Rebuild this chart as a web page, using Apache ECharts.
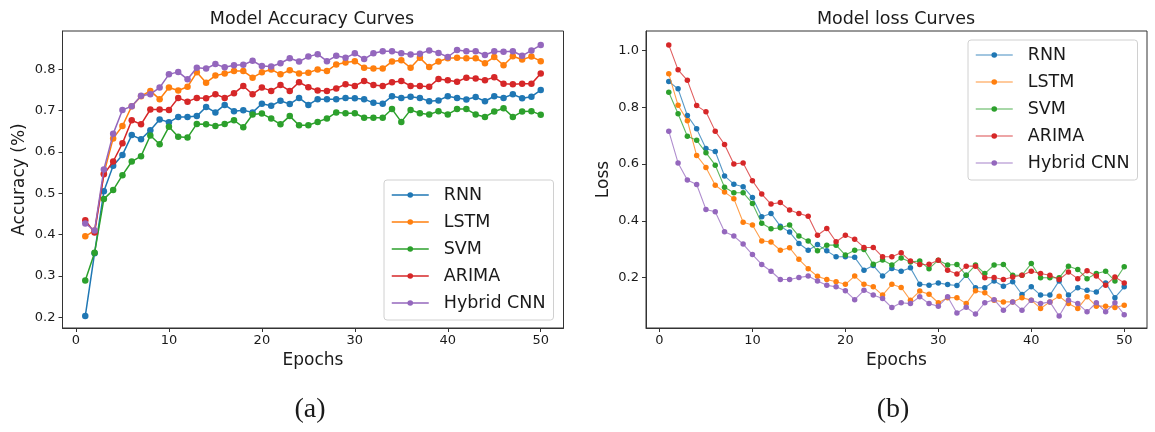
<!DOCTYPE html>
<html>
<head>
<meta charset="utf-8">
<script src="https://cdn.jsdelivr.net/npm/echarts@6/dist/echarts.min.js"></script>
<style>html,body{margin:0;padding:0;background:#fff;}#c{width:1155px;height:432px;}</style>
</head>
<body>
<div id="c"></div>
<script>
const epochs = Array.from({length: 50}, (_, i) => i + 1);
const seriesNames = ['RNN', 'LSTM', 'SVM', 'ARIMA', 'Hybrid CNN'];
const xTicks = [0, 10, 20, 30, 40, 50];
const accTicks = [0.2, 0.3, 0.4, 0.5, 0.6, 0.7, 0.8];
const lossTicks = [0.2, 0.4, 0.6, 0.8, 1.0];

const accRNN = [0.203,0.355,0.505,0.567,0.593,0.641,0.631,0.653,0.679,0.672,0.685,0.685,0.687,0.709,0.696,0.714,0.699,0.701,0.696,0.717,0.712,0.724,0.716,0.731,0.714,0.728,0.728,0.728,0.731,0.730,0.728,0.719,0.717,0.735,0.731,0.734,0.731,0.723,0.725,0.735,0.731,0.727,0.733,0.723,0.735,0.731,0.740,0.730,0.734,0.750];
const accLSTM = [0.396,0.410,0.548,0.633,0.663,0.711,0.735,0.748,0.728,0.756,0.749,0.758,0.793,0.768,0.785,0.790,0.796,0.796,0.780,0.793,0.800,0.788,0.798,0.790,0.792,0.800,0.796,0.812,0.817,0.820,0.804,0.802,0.802,0.819,0.822,0.804,0.828,0.806,0.819,0.827,0.828,0.827,0.827,0.815,0.830,0.810,0.832,0.824,0.831,0.820];
const accSVM = [0.289,0.356,0.486,0.508,0.544,0.577,0.590,0.640,0.619,0.661,0.637,0.635,0.668,0.667,0.663,0.668,0.677,0.660,0.691,0.693,0.681,0.667,0.687,0.665,0.665,0.673,0.681,0.696,0.694,0.694,0.683,0.683,0.683,0.704,0.673,0.702,0.694,0.691,0.699,0.691,0.704,0.704,0.691,0.685,0.698,0.706,0.685,0.698,0.699,0.690];
const accARIMA = [0.435,0.405,0.546,0.577,0.621,0.677,0.667,0.703,0.703,0.702,0.731,0.722,0.731,0.730,0.740,0.731,0.742,0.760,0.740,0.756,0.748,0.762,0.748,0.769,0.757,0.749,0.748,0.754,0.764,0.760,0.772,0.762,0.760,0.769,0.772,0.760,0.760,0.758,0.777,0.774,0.770,0.780,0.778,0.774,0.781,0.765,0.764,0.765,0.765,0.790];
const accHybrid = [0.427,0.410,0.558,0.644,0.702,0.711,0.736,0.740,0.756,0.788,0.794,0.776,0.804,0.802,0.813,0.805,0.810,0.811,0.821,0.808,0.807,0.815,0.827,0.819,0.831,0.837,0.820,0.833,0.828,0.839,0.825,0.839,0.844,0.844,0.839,0.836,0.838,0.846,0.840,0.830,0.847,0.844,0.844,0.835,0.844,0.843,0.844,0.833,0.846,0.859];

const lossRNN = [0.891,0.865,0.771,0.724,0.655,0.644,0.558,0.529,0.520,0.482,0.414,0.426,0.381,0.360,0.320,0.296,0.316,0.294,0.273,0.273,0.271,0.226,0.242,0.205,0.232,0.222,0.234,0.176,0.173,0.181,0.175,0.172,0.208,0.164,0.164,0.188,0.169,0.185,0.140,0.167,0.138,0.138,0.188,0.138,0.164,0.155,0.149,0.181,0.129,0.167];
const lossLSTM = [0.918,0.807,0.753,0.630,0.588,0.525,0.501,0.478,0.395,0.385,0.329,0.325,0.296,0.305,0.264,0.231,0.204,0.193,0.185,0.176,0.205,0.176,0.167,0.138,0.176,0.165,0.120,0.152,0.141,0.111,0.129,0.129,0.108,0.153,0.146,0.120,0.114,0.114,0.129,0.120,0.091,0.114,0.134,0.108,0.091,0.132,0.099,0.099,0.094,0.102];
const lossSVM = [0.853,0.777,0.698,0.684,0.640,0.596,0.518,0.499,0.499,0.461,0.391,0.372,0.375,0.385,0.346,0.329,0.294,0.314,0.314,0.279,0.296,0.299,0.247,0.262,0.244,0.269,0.255,0.258,0.231,0.261,0.244,0.246,0.208,0.244,0.214,0.244,0.246,0.208,0.208,0.249,0.199,0.199,0.199,0.240,0.228,0.196,0.214,0.222,0.188,0.238];
const lossARIMA = [1.020,0.932,0.895,0.806,0.784,0.716,0.669,0.600,0.604,0.541,0.494,0.459,0.464,0.438,0.426,0.416,0.349,0.373,0.326,0.349,0.335,0.306,0.306,0.273,0.273,0.287,0.258,0.246,0.247,0.261,0.226,0.212,0.240,0.240,0.199,0.200,0.193,0.202,0.208,0.222,0.214,0.208,0.193,0.219,0.196,0.224,0.205,0.173,0.202,0.181];
const lossHybrid = [0.716,0.604,0.544,0.528,0.440,0.432,0.361,0.346,0.318,0.281,0.246,0.222,0.193,0.193,0.200,0.205,0.188,0.173,0.167,0.153,0.122,0.155,0.138,0.126,0.094,0.111,0.108,0.132,0.108,0.099,0.132,0.075,0.095,0.071,0.111,0.122,0.085,0.114,0.085,0.120,0.108,0.114,0.064,0.120,0.108,0.079,0.111,0.079,0.111,0.069];

const colors = ['#1f77b4', '#ff7f0e', '#2ca02c', '#d62728', '#9467bd'];
const accData = [accRNN, accLSTM, accSVM, accARIMA, accHybrid];
const lossData = [lossRNN, lossLSTM, lossSVM, lossARIMA, lossHybrid];

const FONT = 'DejaVu Sans';
const TXT = '#1a1a1a';

function xAxis(gridIndex) {
  return {
    type: 'value', gridIndex, min: -1.45, max: 52.45,
    name: 'Epochs', nameLocation: 'middle', nameGap: 22,
    nameTextStyle: {fontFamily: FONT, fontSize: 17, color: TXT},
    axisLine: {show: true, onZero: false, lineStyle: {color: '#333', width: 1}},
    axisTick: {show: true, length: 4, customValues: xTicks, lineStyle: {color: '#333'}},
    axisLabel: {customValues: xTicks, margin: 6, fontFamily: FONT, fontSize: 13, color: TXT},
    splitLine: {show: false}
  };
}
function yAxis(gridIndex, min, max, ticks, name) {
  return {
    type: 'value', gridIndex, min, max,
    name, nameLocation: 'middle', nameGap: 34, nameRotate: 90,
    nameTextStyle: {fontFamily: FONT, fontSize: 17, color: TXT},
    axisLine: {show: true, onZero: false, lineStyle: {color: '#333', width: 1}},
    axisTick: {show: true, length: 4, customValues: ticks, lineStyle: {color: '#333'}},
    axisLabel: {customValues: ticks, margin: 7, fontFamily: FONT, fontSize: 13, color: TXT,
      formatter: v => v.toFixed(1)},
    splitLine: {show: false}
  };
}

const series = [];
seriesNames.forEach((n, i) => {
  series.push({
    name: n, type: 'line', xAxisIndex: 0, yAxisIndex: 0,
    data: epochs.map((e, k) => [e, accData[i][k]]),
    symbol: 'circle', symbolSize: 6.5, showAllSymbol: true,
    lineStyle: {width: 1.5, color: colors[i]}, itemStyle: {color: colors[i]},
    animation: false, z: 2 + i
  });
});
seriesNames.forEach((n, i) => {
  series.push({
    name: n, type: 'line', xAxisIndex: 1, yAxisIndex: 1,
    data: epochs.map((e, k) => [e, lossData[i][k]]),
    symbol: 'circle', symbolSize: 5.5, showAllSymbol: true,
    lineStyle: {width: 1.1, color: colors[i], opacity: 0.75}, itemStyle: {color: colors[i]},
    animation: false, z: 2 + i
  });
});

function legend(left, top, lineOpacity) {
  return {
    orient: 'vertical', left, top,
    data: seriesNames,
    itemWidth: 37, itemHeight: 7, itemGap: 7,
    padding: [5, 8, 7, 7],
    backgroundColor: '#fff', borderColor: '#d0d0d0', borderWidth: 1, borderRadius: 3,
    textStyle: {fontFamily: FONT, fontSize: 17.5, color: TXT, lineHeight: 20, padding: [0, 0, 0, 10]},
    lineStyle: {width: 1.5, opacity: lineOpacity},
    selectedMode: false
  };
}

const option = {
  animation: false,
  color: colors,
  grid: [
    {left: 62.5, right: 591.5, top: 31, bottom: 104, show: true, borderColor: '#333', borderWidth: 1},
    {left: 646, right: 8, top: 31, bottom: 104, show: true, borderColor: '#333', borderWidth: 1}
  ],
  xAxis: [xAxis(0), xAxis(1)],
  yAxis: [
    yAxis(0, 0.174, 0.893, accTicks, 'Accuracy (%)'),
    yAxis(1, 0.022, 1.069, lossTicks, 'Loss')
  ],
  legend: [legend(384, 180, 1), legend(968, 40, 0.55)],
  graphic: [
    {type: 'text', x: 312, y: 19, style: {text: 'Model Accuracy Curves', fontFamily: FONT, fontSize: 17.5, fill: TXT, align: 'center', verticalAlign: 'middle'}},
    {type: 'text', x: 896, y: 19, style: {text: 'Model loss Curves', fontFamily: FONT, fontSize: 17.5, fill: TXT, align: 'center', verticalAlign: 'middle'}},
    {type: 'text', x: 310, y: 410, style: {text: '(a)', fontFamily: 'Liberation Serif', fontSize: 28, fill: TXT, align: 'center', verticalAlign: 'middle'}},
    {type: 'text', x: 893, y: 410, style: {text: '(b)', fontFamily: 'Liberation Serif', fontSize: 28, fill: TXT, align: 'center', verticalAlign: 'middle'}}
  ],
  series
};

const chart = echarts.init(document.getElementById('c'), null, {renderer: 'canvas'});
chart.setOption(option);
</script>
</body>
</html>
